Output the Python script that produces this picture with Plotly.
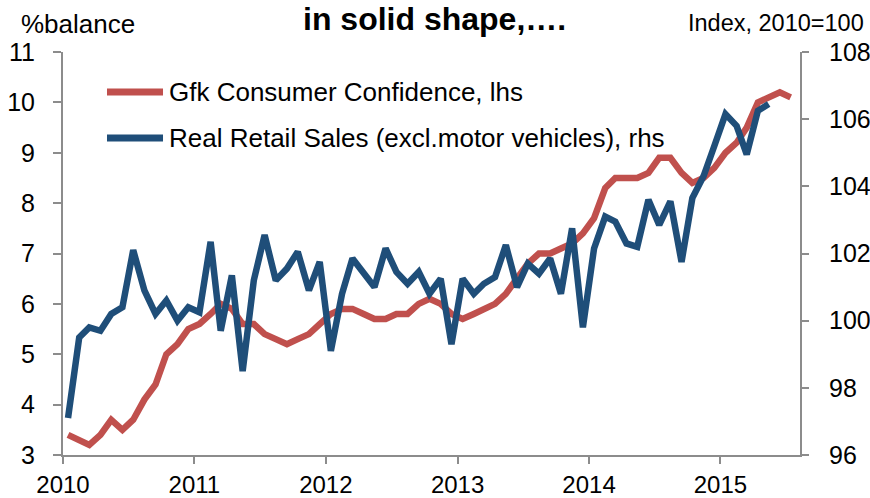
import pandas as pd
import plotly.graph_objects as go

# ---- data ----
months_gfk = pd.date_range("2010-01-01", periods=67, freq="MS") + pd.Timedelta(days=14)
gfk = [3.4, 3.3, 3.2, 3.4, 3.7, 3.5, 3.7, 4.1, 4.4, 5.0, 5.2, 5.5,
       5.6, 5.8, 6.0, 5.9, 5.6, 5.6, 5.4, 5.3, 5.2, 5.3, 5.4, 5.6,
       5.8, 5.9, 5.9, 5.8, 5.7, 5.7, 5.8, 5.8, 6.0, 6.1, 6.0, 5.8,
       5.7, 5.8, 5.9, 6.0, 6.2, 6.5, 6.8, 7.0, 7.0, 7.1, 7.2, 7.4,
       7.7, 8.3, 8.5, 8.5, 8.5, 8.6, 8.9, 8.9, 8.6, 8.4, 8.5, 8.7,
       9.0, 9.2, 9.5, 10.0, 10.1, 10.2, 10.1]

months_retail = months_gfk[:65]
retail = [97.1, 99.5, 99.8, 99.7, 100.2, 100.4, 102.1, 100.9, 100.2, 100.6, 100.0, 100.4,
          100.25, 102.35, 99.7, 101.35, 98.5, 101.2, 102.55, 101.2, 101.55, 102.05, 100.9, 101.75,
          99.1, 100.8, 101.85, 101.45, 101.0, 102.15, 101.45, 101.1, 101.45, 100.8, 101.25, 99.3,
          101.25, 100.8, 101.1, 101.3, 102.25, 101.0, 101.7, 101.4, 101.85, 100.8, 102.75, 99.8,
          102.15, 103.1, 102.95, 102.3, 102.2, 103.6, 102.85, 103.55, 101.75, 103.65, 104.3, 105.2,
          106.15, 105.8, 104.95, 106.25, 106.45]

year_ticks = ["2010-01-01", "2011-01-01", "2012-01-01", "2013-01-01", "2014-01-01", "2015-01-01"]
year_labels = ["2010", "2011", "2012", "2013", "2014", "2015"]

name_gfk = "Gfk Consumer Confidence, lhs"
name_retail = "Real Retail Sales (excl.motor vehicles), rhs"

RED = "#C0504D"
BLUE = "#1F4E79"
AXIS = "#8C8C8C"
FONT = "Liberation Sans, Arial, sans-serif"

fig = go.Figure()
fig.add_trace(go.Scatter(x=months_gfk, y=gfk, mode="lines", name=name_gfk,
                         line=dict(color=RED, width=6.5), yaxis="y", showlegend=False))
fig.add_trace(go.Scatter(x=months_retail, y=retail, mode="lines", name=name_retail,
                         line=dict(color=BLUE, width=6.5), yaxis="y2", showlegend=False))

# custom legend
legend_items = [(name_gfk, RED, 0.9007), (name_retail, BLUE, 0.7866)]
for txt, col, yy in legend_items:
    fig.add_shape(type="line", xref="paper", yref="paper", x0=0.0597, x1=0.1357, y0=yy, y1=yy,
                  line=dict(color=col, width=7))
    fig.add_annotation(text=txt, xref="paper", yref="paper", x=0.1411, y=yy,
                       xanchor="left", yanchor="middle", showarrow=False,
                       font=dict(size=26, color="black", family=FONT))

fig.add_annotation(text="<b>in solid shape,….</b>", xref="paper", yref="paper",
                   x=0.5034, y=1.033, xanchor="center", yanchor="bottom", showarrow=False,
                   font=dict(size=32, color="black", family=FONT))
fig.add_annotation(text="%balance", xref="paper", yref="paper",
                   x=-0.0597, y=1.0285, xanchor="left", yanchor="bottom", showarrow=False,
                   font=dict(size=26, color="black", family=FONT))
fig.add_annotation(text="Index, 2010=100", xref="paper", yref="paper",
                   x=1.0896, y=1.0355, xanchor="right", yanchor="bottom", showarrow=False,
                   font=dict(size=23.5, color="black", family=FONT))

fig.update_layout(
    width=870, height=498,
    margin=dict(l=63, r=70, t=52, b=43, autoexpand=False),
    paper_bgcolor="white", plot_bgcolor="white",
    font=dict(family=FONT, color="black"),
    xaxis=dict(type="date", range=["2010-01-01", "2015-08-10"], automargin=False,
               tickmode="array", tickvals=year_ticks, ticktext=year_labels,
               ticks="outside", ticklen=7, tickwidth=2, tickcolor=AXIS,
               showline=True, linecolor=AXIS, linewidth=2,
               showgrid=False, zeroline=False,
               tickfont=dict(size=24, color="black"), ticklabelstandoff=0),
    yaxis=dict(range=[3, 11], dtick=1, tick0=3, automargin=False,
               ticks="outside", ticklen=8, tickwidth=2, tickcolor=AXIS,
               showline=True, linecolor=AXIS, linewidth=2,
               showgrid=False, zeroline=False,
               tickfont=dict(size=25, color="black"), ticklabelstandoff=13),
    yaxis2=dict(range=[96, 108], dtick=2, tick0=96, overlaying="y", side="right", automargin=False,
                ticks="outside", ticklen=7, tickwidth=2, tickcolor=AXIS,
                showline=True, linecolor=AXIS, linewidth=2,
                showgrid=False, zeroline=False,
                tickfont=dict(size=25, color="black"), ticklabelstandoff=15),
)

fig.write_html("out.html")
